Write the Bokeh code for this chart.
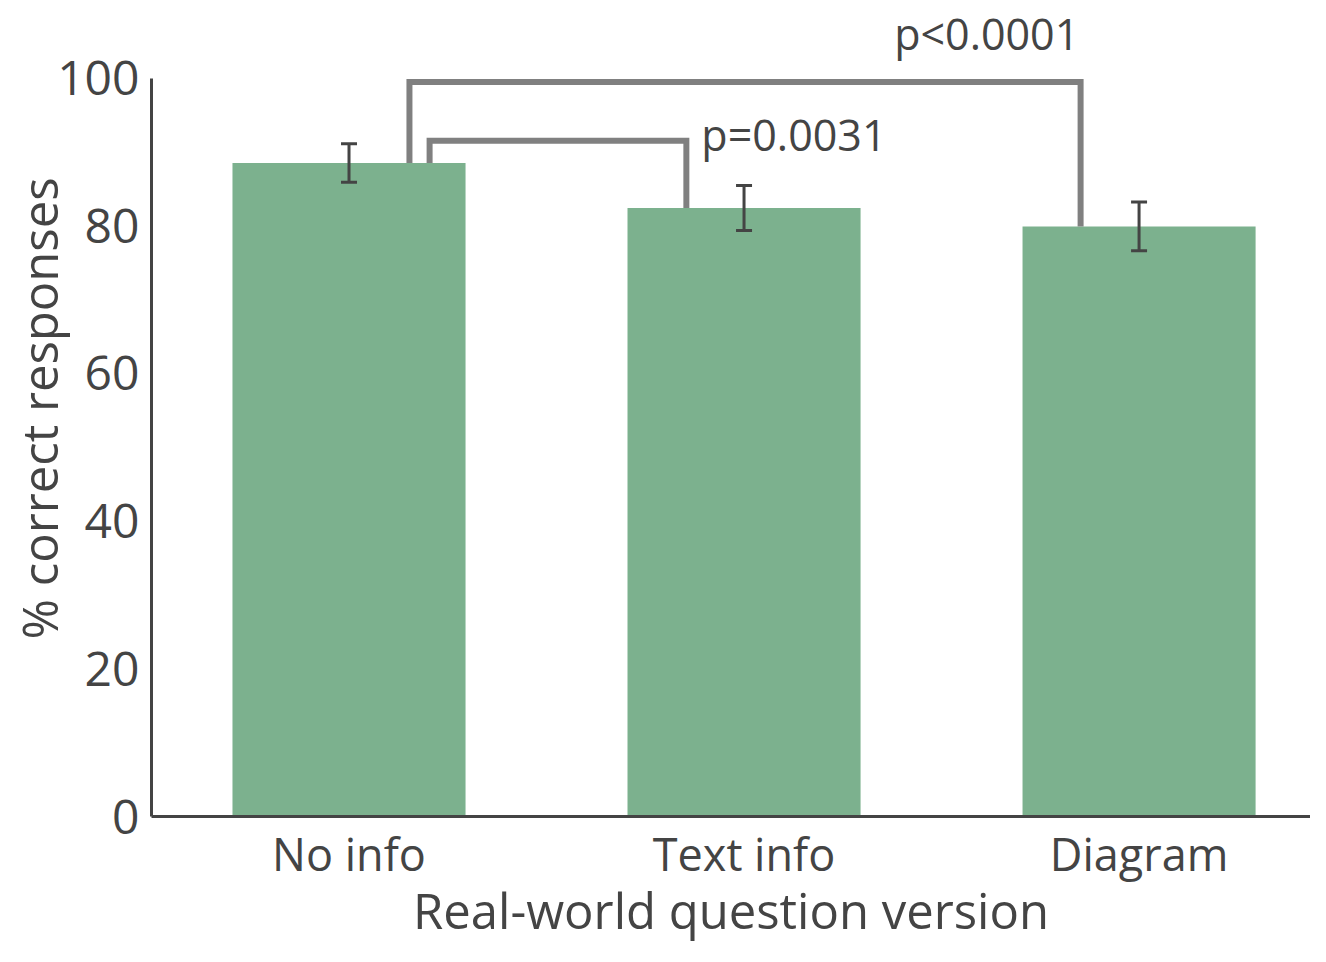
from bokeh.plotting import figure
from bokeh.models import ColumnDataSource, Range1d, Whisker, TeeHead, FixedTicker
from bokeh.core.properties import value
from bokeh.embed import file_html
from bokeh.resources import INLINE

# ---- data ----
categories = ["No info", "Text info", "Diagram"]
pct_correct = [88.5, 82.4, 79.9]
sem = [2.6, 3.05, 3.3]
y_ticks = [0, 20, 40, 60, 80, 100]
comparisons = [("No info", "Text info"), ("No info", "Diagram")]
p_labels = ["p=0.0031", "p<0.0001"]
x_title = "Real-world question version"
y_title = "% correct responses"

# ---- styles / layout ----
FONT = "Open Sans"
TEXT = "#444444"
BAR = "#7cb18e"
BRACKET = "#808080"

# category slots on a numeric axis (one unit per category, centred at i + 0.5)
xpos = [i + 0.5 for i in range(len(categories))]
xmap = dict(zip(categories, xpos))

p = figure(x_range=Range1d(0, 2.934), y_range=Range1d(0, 110.5),
           width=1310, height=946, output_backend="svg", toolbar_location=None,
           min_border_left=151, min_border_right=0, min_border_top=0, min_border_bottom=130)

src = ColumnDataSource(dict(
    x=xpos, cat=categories, val=pct_correct,
    upper=[v + e for v, e in zip(pct_correct, sem)],
    lower=[v - e for v, e in zip(pct_correct, sem)],
))

p.vbar(x="x", top="val", width=0.59, source=src, fill_color=BAR, line_color=None)

wh = Whisker(base="x", upper="upper", lower="lower", source=src,
             line_color=TEXT, line_width=3, level="overlay",
             upper_head=TeeHead(size=16, line_color=TEXT, line_width=3),
             lower_head=TeeHead(size=16, line_color=TEXT, line_width=3))
p.add_layout(wh)

# significance brackets
bracket_levels = [91.5, 99.45]
left_offsets = [0.204, 0.153]
right_offsets = [-0.146, -0.148]
for (a, b), lvl, lo, ro in zip(comparisons, bracket_levels, left_offsets, right_offsets):
    ya = pct_correct[categories.index(a)]
    yb = pct_correct[categories.index(b)]
    xa = xmap[a] + lo
    xb = xmap[b] + ro
    p.line(x=[xa, xa, xb, xb], y=[ya, lvl, lvl, yb],
           line_width=6, line_color=BRACKET, line_join="miter")

p.text(x=[xmap["Text info"] - 0.108, xmap["Diagram"] - 0.62], y=[92.4, 106.0], text=p_labels,
       text_font=value(FONT), text_font_size="43px", text_color=TEXT,
       text_baseline="alphabetic", text_align="left")

# axes
p.xgrid.visible = False
p.ygrid.visible = False
p.outline_line_color = None

p.yaxis.ticker = FixedTicker(ticks=y_ticks)
p.yaxis.bounds = (0, 100)
p.xaxis.ticker = FixedTicker(ticks=xpos)
p.xaxis.major_label_overrides = {x: c for x, c in zip(xpos, categories)}
p.yaxis.axis_label = y_title
p.xaxis.axis_label = x_title

for ax in (p.xaxis[0], p.yaxis[0]):
    ax.axis_line_color = TEXT
    ax.axis_line_width = 3
    ax.major_tick_line_color = None
    ax.minor_tick_line_color = None
    ax.major_tick_out = 0
    ax.major_tick_in = 0
    ax.major_label_text_font = FONT
    ax.major_label_text_color = TEXT
    ax.axis_label_text_font = FONT
    ax.axis_label_text_color = TEXT
    ax.axis_label_text_font_style = "normal"
    ax.axis_label_text_font_size = "49px"

p.yaxis.major_label_text_font_size = "48px"
p.xaxis.major_label_text_font_size = "45px"
p.yaxis.major_label_standoff = 12
p.xaxis.major_label_standoff = 6
p.yaxis.axis_label_standoff = -18
p.xaxis.axis_label_standoff = -10

open("out.html", "w").write(file_html(p, INLINE))
